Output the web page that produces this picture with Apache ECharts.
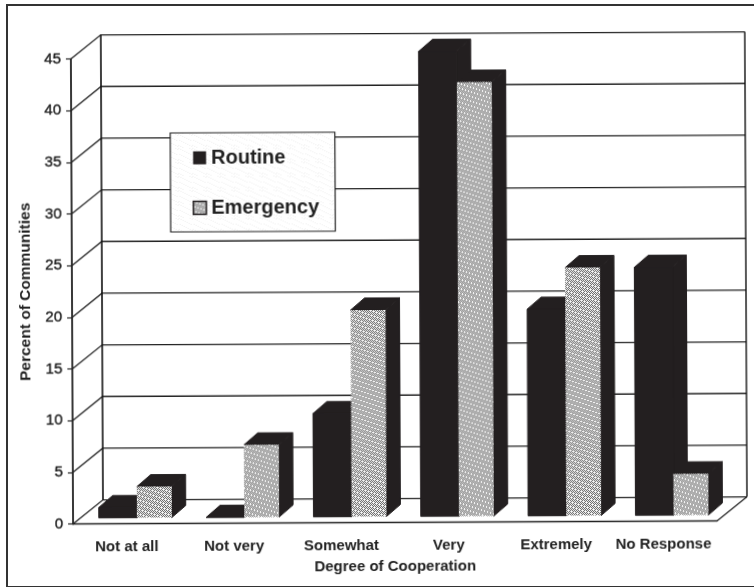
<!DOCTYPE html>
<html>
<head>
<meta charset="utf-8">
<style>
  html, body { margin: 0; padding: 0; background: #fff; }
  #frame { position: absolute; left: 6px; top: 4px; width: 760px; height: 580px; border: 2px solid #333; box-sizing: content-box; }
  #wrap { position: absolute; left: 0; top: 0; width: 754px; height: 587px; overflow: hidden; }
  /* the scan sits a little crooked */
  #chart { position: absolute; left: 0; top: 0; width: 754px; height: 587px; transform: rotate(-0.27deg); }
</style>
<script src="https://cdn.jsdelivr.net/npm/echarts@6/dist/echarts.min.js"></script>
</head>
<body>
<div id="wrap">
  <div id="frame"></div>
  <div id="chart"></div>
</div>
<script>
var categories = ['Not at all', 'Not very', 'Somewhat', 'Very', 'Extremely', 'No Response'];
var routine = [1, 0, 10, 45, 20, 24];
var emergency = [3, 7, 20, 42, 24, 4];
var yTicks = [0, 5, 10, 15, 20, 25, 30, 35, 40, 45];

var INK = '#231f20';

// wall depth and bar depth in pixels
var WALL_DX = 30, WALL_DY = -24;
var BAR_DX = 14, BAR_DY = -12, BAR_LIFT = 6;

function makeTile(dark, light, speck, step) {
  var c = document.createElement('canvas');
  c.width = c.height = 14;
  var ctx = c.getContext('2d');
  for (var x = 0; x < 14; x++) {
    for (var y = 0; y < 14; y++) {
      var col = (x + y) % 2 === 0 ? dark : light;
      if ((x * 3 + y * 5) % step === 0) col = speck;
      ctx.fillStyle = col;
      ctx.fillRect(x, y, 1, 1);
    }
  }
  return { image: c, repeat: 'repeat' };
}

var stipple = makeTile('#6c6c6c', '#ececec', '#f6f6f6', 7);
var boxSpeck = makeTile('#ffffff', '#ffffff', '#eeeeee', 11);

function wallItem(params, api) {
  var v = api.value(1);
  var cs = params.coordSys;
  var y = api.coord([0, v])[1];
  var x0 = cs.x, x1 = cs.x + cs.width;
  var line = { stroke: '#222', lineWidth: 1.3, fill: null };
  var kids = [
    { type: 'polyline', shape: { points: [[x0, y], [x0 + WALL_DX, y + WALL_DY], [x1 + WALL_DX, y + WALL_DY]] }, style: line }
  ];
  if (v === 0) {
    kids.push({ type: 'line', shape: { x1: x1, y1: y, x2: x1 + WALL_DX, y2: y + WALL_DY }, style: line });
  }
  if (v === 45) {
    var yb = api.coord([0, 0])[1];
    kids.push({ type: 'line', shape: { x1: x0 + WALL_DX, y1: y + WALL_DY, x2: x0 + WALL_DX, y2: yb + WALL_DY }, style: { stroke: '#111', lineWidth: 1.6 } });
    kids.push({ type: 'line', shape: { x1: x1 + WALL_DX, y1: y + WALL_DY, x2: x1 + WALL_DX, y2: yb + WALL_DY }, style: { stroke: '#111', lineWidth: 1.4 } });
  }
  return { type: 'group', children: kids };
}

function barRender(from, to, face) {
  return function (params, api) {
    var band = api.size([1, 0])[0];
    var c = api.coord([api.value(0), api.value(1)]);
    var base = api.coord([api.value(0), 0])[1] - BAR_LIFT;
    var top = c[1] - BAR_LIFT;
    var l = c[0] + band * from, r = c[0] + band * to;
    var dark = { fill: INK, stroke: INK, lineWidth: 1, lineJoin: 'round' };
    return {
      type: 'group',
      children: [
        { type: 'polygon', shape: { points: [[l, top], [l + BAR_DX, top + BAR_DY], [r + BAR_DX, top + BAR_DY], [r, top]] }, style: dark },
        { type: 'polygon', shape: { points: [[r, top], [r + BAR_DX, top + BAR_DY], [r + BAR_DX, base + BAR_DY], [r, base]] }, style: dark },
        { type: 'rect', shape: { x: l, y: top, width: r - l, height: base - top }, style: { fill: face, stroke: face === INK ? INK : null, lineWidth: 1 } }
      ]
    };
  };
}

var myChart = echarts.init(document.getElementById('chart'), null, { renderer: 'canvas' });
var axisFont = { fontFamily: 'Liberation Sans', fontWeight: 'bold', color: '#222' };

myChart.setOption({
  animation: false,
  backgroundColor: 'transparent',
  grid: { left: 72, right: 38, top: 57.6, bottom: 64.4 },
  legend: {
    left: 171,
    top: 132,
    orient: 'vertical',
    padding: [15, 16, 14, 22],
    itemWidth: 13,
    itemHeight: 13,
    itemGap: 30,
    backgroundColor: boxSpeck,
    borderColor: '#222',
    borderWidth: 1.2,
    borderRadius: 0,
    selectedMode: false,
    textStyle: { fontFamily: 'Liberation Sans', fontWeight: 'bold', fontSize: 20, color: '#222' },
    data: [
      { name: 'Routine', icon: 'rect', itemStyle: { color: INK, borderWidth: 0 } },
      { name: 'Emergency', icon: 'rect', itemStyle: { color: stipple, borderColor: INK, borderWidth: 1.5 } }
    ]
  },
  xAxis: {
    type: 'category',
    data: categories,
    name: 'Degree of Cooperation',
    nameLocation: 'middle',
    nameGap: 37,
    nameTextStyle: Object.assign({ fontSize: 15 }, axisFont),
    axisLine: { lineStyle: { color: '#222', width: 1.4 } },
    axisTick: { length: 6, lineStyle: { color: '#222', width: 1.2 } },
    axisLabel: Object.assign({ fontSize: 15, margin: 16, interval: 0 }, axisFont),
    splitLine: { show: false }
  },
  yAxis: {
    type: 'value',
    min: 0,
    max: 45,
    interval: 5,
    name: 'Percent of Communities',
    nameLocation: 'middle',
    nameGap: 38,
    nameTextStyle: Object.assign({ fontSize: 15.5 }, axisFont),
    axisLine: { show: true, lineStyle: { color: '#222', width: 1.8 } },
    axisTick: { show: true, length: 5, lineStyle: { color: '#222', width: 1.2 } },
    axisLabel: { fontFamily: 'Liberation Sans', fontSize: 15, color: '#222', margin: 10, textBorderColor: '#222', textBorderWidth: 0.4 },
    splitLine: { show: false }
  },
  series: [
    {
      type: 'custom',
      name: 'walls',
      silent: true,
      renderItem: wallItem,
      encode: { x: 0, y: 1 },
      data: yTicks.map(function (v) { return [0, v]; })
    },
    {
      type: 'custom',
      name: 'Routine',
      silent: true,
      renderItem: barRender(-0.26, 0.095, INK),
      encode: { x: 0, y: 1 },
      itemStyle: { color: INK },
      data: routine.map(function (v, i) { return [i, v]; })
    },
    {
      type: 'custom',
      name: 'Emergency',
      silent: true,
      renderItem: barRender(0.095, 0.42, stipple),
      encode: { x: 0, y: 1 },
      itemStyle: { color: '#aaa' },
      data: emergency.map(function (v, i) { return [i, v]; })
    }
  ]
});
</script>
</body>
</html>
